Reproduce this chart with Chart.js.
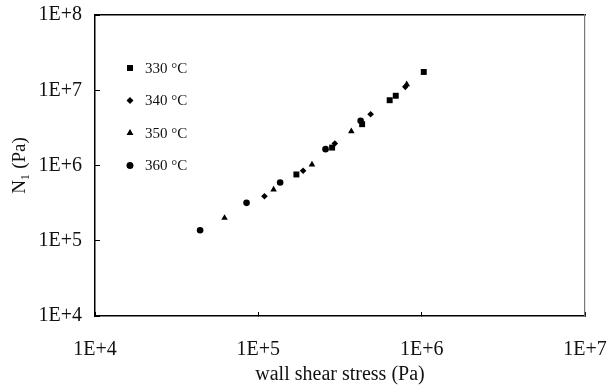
<!DOCTYPE html>
<html>
<head>
<meta charset="utf-8">
<script src="https://cdn.jsdelivr.net/npm/chart.js@4.4.1/dist/chart.umd.min.js"></script>
<style>
  html, body { margin: 0; padding: 0; background: #fff; }
  #wrap { width: 610px; height: 392px; }
</style>
</head>
<body>
<div id="wrap"><canvas id="myChart" width="610" height="392"></canvas></div>
<script>
    // axis ticks (log decades)
    var xTicks = [1e4, 1e5, 1e6, 1e7];
    var xTickLabels = ['1E+4', '1E+5', '1E+6', '1E+7'];
    var yTicks = [1e4, 1e5, 1e6, 1e7, 1e8];
    var yTickLabels = ['1E+4', '1E+5', '1E+6', '1E+7', '1E+8'];

    var seriesNames = ['330 °C', '340 °C', '350 °C', '360 °C'];

    // wall shear stress (Pa) / N1 (Pa)
    var stress330 = [1.71e5, 2.83e5, 4.32e5, 6.37e5, 6.94e5, 1.03e6];
    var n1_330 = [7.6e5, 1.73e6, 3.54e6, 7.37e6, 8.45e6, 1.75e7];

    var stress340 = [1.09e5, 1.88e5, 2.94e5, 4.87e5, 7.94e5];
    var n1_340 = [3.91e5, 8.53e5, 1.96e6, 4.8e6, 1.11e7];

    var stress350 = [6.21e4, 1.24e5, 2.13e5, 3.71e5, 8.1e5];
    var n1_350 = [2.01e5, 4.8e5, 1.03e6, 2.85e6, 1.2e7];

    var stress360 = [4.4e4, 8.47e4, 1.36e5, 2.58e5, 4.23e5];
    var n1_360 = [1.38e5, 3.19e5, 5.94e5, 1.65e6, 3.94e6];

    var serifFont = '"Liberation Serif", "Times New Roman", serif';

    function toPoints(xs, ys) {
        return xs.map(function (x, i) { return { x: x, y: ys[i] }; });
    }

    function makeSet(name, xs, ys, style, r) {
        return {
            label: name,
            data: toPoints(xs, ys),
            pointStyle: style,
            pointRadius: r,
            pointHoverRadius: r,
            backgroundColor: '#000',
            borderColor: '#000',
            borderWidth: 0,
            showLine: false
        };
    }

    // keep the plot box fixed: no extra room for edge labels
    function noEdgePad(scale) {
        scale.paddingLeft = 0;
        scale.paddingRight = 0;
        scale.paddingTop = 0;
        scale.paddingBottom = 0;
    }

    // legend drawn inside the plot area, one entry per row
    var insideLegend = {
        id: 'insideLegend',
        afterDatasetsDraw: function (chart) {
            var ctx = chart.ctx;
            var area = chart.chartArea;
            ctx.save();
            ctx.font = '15px ' + serifFont;
            ctx.textBaseline = 'middle';
            chart.data.datasets.forEach(function (ds, i) {
                var y = area.top + 53 + i * 32.5;
                var x = area.left + 35;
                ctx.fillStyle = '#000';
                Chart.helpers.drawPoint(ctx, {
                    pointStyle: ds.pointStyle,
                    radius: ds.pointRadius,
                    rotation: 0,
                    borderWidth: 0
                }, x, y);
                ctx.fill();
                ctx.fillStyle = '#111';
                ctx.fillText(ds.label, x + 15, y + 1);
            });
            ctx.restore();
        }
    };

    var canvas = document.getElementById('myChart');
    var ctx = canvas.getContext('2d');
    var myChart = new Chart(ctx, {
        type: 'scatter',
        data: {
            datasets: [
                makeSet(seriesNames[0], stress330, n1_330, 'rect', 4.2),
                makeSet(seriesNames[1], stress340, n1_340, 'rectRot', 3.3),
                makeSet(seriesNames[2], stress350, n1_350, 'triangle', 3.8),
                makeSet(seriesNames[3], stress360, n1_360, 'circle', 3.3)
            ]
        },
        options: {
            responsive: false,
            animation: false,
            layout: { padding: { top: 15, right: 25, left: 0, bottom: 0 } },
            plugins: {
                legend: { display: false },
                tooltip: { enabled: false }
            },
            scales: {
                x: {
                    type: 'logarithmic',
                    position: 'bottom',
                    min: 1e4,
                    max: 1e7,
                    afterBuildTicks: function (scale) {
                        scale.ticks = xTicks.map(function (v) { return { value: v, major: true }; });
                    },
                    afterFit: function (scale) { scale.height = 76; noEdgePad(scale); },
                    ticks: {
                        padding: 26,
                        color: '#111',
                        font: { family: serifFont, size: 20 },
                        maxRotation: 0,
                        autoSkip: false,
                        callback: function (value) {
                            var i = xTicks.indexOf(value);
                            return i >= 0 ? xTickLabels[i] : '';
                        }
                    },
                    grid: { display: true, drawOnChartArea: false, drawTicks: true, tickLength: -4, color: '#000', lineWidth: 1 },
                    border: { display: true, color: '#000', width: 1.5 },
                    title: {
                        display: true,
                        text: 'wall shear stress (Pa)',
                        color: '#111',
                        font: { family: serifFont, size: 20 },
                        padding: { top: 0, bottom: 5 }
                    }
                },
                y: {
                    type: 'logarithmic',
                    position: 'left',
                    min: 1e4,
                    max: 1e8,
                    afterBuildTicks: function (scale) {
                        scale.ticks = yTicks.map(function (v) { return { value: v, major: true }; });
                    },
                    afterFit: function (scale) { scale.width = 95; noEdgePad(scale); },
                    ticks: {
                        padding: 18,
                        color: '#111',
                        font: { family: serifFont, size: 20 },
                        autoSkip: false,
                        callback: function (value) {
                            var i = yTicks.indexOf(value);
                            return i >= 0 ? yTickLabels[i] : '';
                        }
                    },
                    grid: { display: true, drawOnChartArea: false, drawTicks: true, tickLength: -5, color: '#000', lineWidth: 1 },
                    border: { display: true, color: '#000', width: 1.5 },
                    title: {
                        display: true,
                        text: 'N\u2081 (Pa)',
                        color: '#111',
                        font: { family: serifFont, size: 19 },
                        padding: { top: 9, bottom: 0 }
                    }
                },
                xTop: {
                    type: 'logarithmic',
                    position: 'top',
                    min: 1e4,
                    max: 1e7,
                    afterFit: function (scale) { scale.height = 0; noEdgePad(scale); },
                    ticks: { display: false },
                    grid: { display: false },
                    border: { display: true, color: '#000', width: 1.5 }
                },
                yRight: {
                    type: 'logarithmic',
                    position: 'right',
                    min: 1e4,
                    max: 1e8,
                    afterFit: function (scale) { scale.width = 0; noEdgePad(scale); },
                    ticks: { display: false },
                    grid: { display: false },
                    border: { display: true, color: '#777', width: 1.2 }
                }
            }
        },
        plugins: [insideLegend]
    });
</script>
</body>
</html>
